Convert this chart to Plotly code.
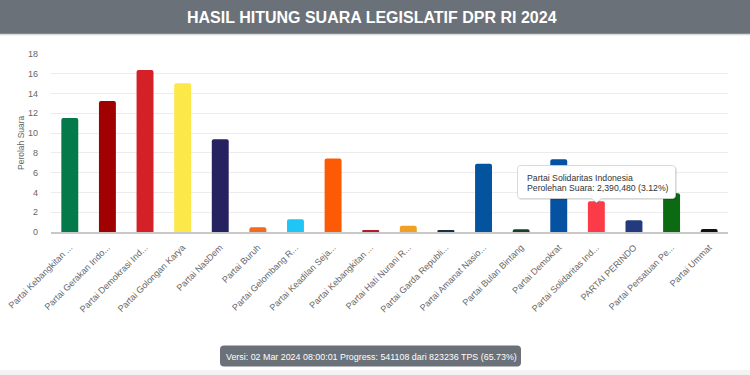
import plotly.graph_objects as go

# ---------------- data ----------------
parties = [
    "Partai Kebangkitan Bangsa", "Partai Gerakan Indonesia Raya", "Partai Demokrasi Indonesia Perjuangan",
    "Partai Golongan Karya", "Partai NasDem", "Partai Buruh", "Partai Gelombang Rakyat Indonesia",
    "Partai Keadilan Sejahtera", "Partai Kebangkitan Nusantara", "Partai Hati Nurani Rakyat",
    "Partai Garda Republik Indonesia", "Partai Amanat Nasional", "Partai Bulan Bintang",
    "Partai Demokrat", "Partai Solidaritas Indonesia", "PARTAI PERINDO",
    "Partai Persatuan Pembangunan", "Partai Ummat",
]
tick_labels = [
    "Partai Kebangkitan ...", "Partai Gerakan Indo...", "Partai Demokrasi Ind...",
    "Partai Golongan Karya", "Partai NasDem", "Partai Buruh", "Partai Gelombang R...",
    "Partai Keadilan Seja...", "Partai Kebangkitan ...", "Partai Hati Nurani R...",
    "Partai Garda Republi...", "Partai Amanat Nasio...", "Partai Bulan Bintang",
    "Partai Demokrat", "Partai Solidaritas Ind...", "PARTAI PERINDO",
    "Partai Persatuan Pe...", "Partai Ummat",
]
vote_share = [11.52, 13.25, 16.39, 15.04, 9.39, 0.47, 1.28, 7.43, 0.15,
              0.64, 0.17, 6.90, 0.27, 7.35, 3.12, 1.18, 3.92, 0.30]
bar_colors = ["#047a4a", "#a00000", "#d42027", "#fde84a", "#25225f", "#f36b21",
              "#1fc6f5", "#fd5a05", "#b01c2b", "#f0a124", "#1d2e3e", "#03539f",
              "#17402a", "#0551a2", "#fb3b48", "#243a7e", "#0b6a12", "#111111"]
y_ticks = [0, 2, 4, 6, 8, 10, 12, 14, 16, 18]

chart_title = "HASIL HITUNG SUARA LEGISLATIF DPR RI 2024"
y_title = "Perolah Suara"
tooltip_party = "Partai Solidaritas Indonesia"
tooltip_votes = "2,390,480"
tooltip_pct = "3.12%"
footer_text = "Versi: 02 Mar 2024 08:00:01 Progress: 541108 dari 823236 TPS (65.73%)"

# ---------------- layout geometry ----------------
W, H = 750, 375
L, R, T, B = 51, 22, 54, 143
PW, PH = W - L - R, H - T - B


def px(x):
    return (x - L) / PW


def py(y):
    return (H - B - y) / PH


def rounded_rect(x0, y0, x1, y1, r, pointer=None):
    pts = []
    pts.append(f"M {px(x0 + r)},{py(y0)}")
    pts.append(f"L {px(x1 - r)},{py(y0)}")
    pts.append(f"Q {px(x1)},{py(y0)} {px(x1)},{py(y0 + r)}")
    pts.append(f"L {px(x1)},{py(y1 - r)}")
    pts.append(f"Q {px(x1)},{py(y1)} {px(x1 - r)},{py(y1)}")
    if pointer:
        cx, tip, hw = pointer
        pts.append(f"L {px(cx + hw)},{py(y1)}")
        pts.append(f"L {px(cx)},{py(tip)}")
        pts.append(f"L {px(cx - hw)},{py(y1)}")
    pts.append(f"L {px(x0 + r)},{py(y1)}")
    pts.append(f"Q {px(x0)},{py(y1)} {px(x0)},{py(y1 - r)}")
    pts.append(f"L {px(x0)},{py(y0 + r)}")
    pts.append(f"Q {px(x0)},{py(y0)} {px(x0 + r)},{py(y0)}")
    pts.append("Z")
    return " ".join(pts)


fig = go.Figure()
fig.add_trace(go.Bar(
    x=parties, y=vote_share, marker=dict(color=bar_colors, line=dict(width=0)),
    width=0.45, hoverinfo="x+y",
))

shapes = []
shapes.append(dict(type="rect", xref="paper", yref="paper", x0=px(0), x1=px(W), y0=py(34), y1=py(0),
                   fillcolor="#6b7178", line=dict(width=0), layer="below"))
shapes.append(dict(type="line", xref="paper", yref="paper", x0=px(0), x1=px(W), y0=py(34.5), y1=py(34.5),
                   line=dict(color="#d9d9d9", width=1.5)))
shapes.append(dict(type="rect", xref="paper", yref="paper", x0=px(0), x1=px(W), y0=py(H), y1=py(370),
                   fillcolor="#f3f3f3", line=dict(width=0), layer="below"))
shapes.append(dict(type="path", xref="paper", yref="paper",
                   path=rounded_rect(220, 345.5, 521, 366.5, 4),
                   fillcolor="#6b7178", line=dict(width=0)))
shapes.append(dict(type="path", xref="paper", yref="paper",
                   path=rounded_rect(518.5, 167, 677, 200, 3, pointer=(597, 203.5, 5)),
                   fillcolor="rgba(0,0,0,0.10)", line=dict(width=0)))
shapes.append(dict(type="path", xref="paper", yref="paper",
                   path=rounded_rect(517.5, 165.5, 675.5, 198.5, 3, pointer=(596.5, 202.5, 5)),
                   fillcolor="white", line=dict(color="#d0d0d0", width=0.8)))

annotations = []
annotations.append(dict(text=chart_title, xref="paper", yref="paper", x=px(372), y=py(17),
                        xanchor="center", yanchor="middle", showarrow=False,
                        font=dict(family="Liberation Sans, Arial", size=16,
                                  color="white", weight="bold")))
annotations.append(dict(text=y_title, xref="paper", yref="paper", x=px(21), y=py(143),
                        xanchor="center", yanchor="middle", showarrow=False, textangle=-90,
                        font=dict(family="Liberation Sans, Arial", size=8.5, color="#666666")))
annotations.append(dict(text=tooltip_party, xref="paper", yref="paper", x=px(525), y=py(177.5),
                        xanchor="left", yanchor="middle", showarrow=False,
                        font=dict(family="Liberation Sans, Arial", size=8.7, color="#333333")))
annotations.append(dict(text=f"Perolehan Suara: {tooltip_votes} ({tooltip_pct})", xref="paper", yref="paper",
                        x=px(525), y=py(187.5), xanchor="left", yanchor="middle", showarrow=False,
                        font=dict(family="Liberation Sans, Arial", size=8.7, color="#333333")))
annotations.append(dict(text=footer_text, xref="paper", yref="paper", x=px(371), y=py(356.5),
                        xanchor="center", yanchor="middle", showarrow=False,
                        font=dict(family="Liberation Sans, Arial", size=8.9, color="white")))

fig.update_layout(
    width=W, height=H,
    margin=dict(l=L, r=R, t=T, b=B, pad=0, autoexpand=False),
    paper_bgcolor="white", plot_bgcolor="white",
    showlegend=False,
    barcornerradius=2,
    shapes=shapes, annotations=annotations,
    font=dict(family="Liberation Sans, Arial", size=9, color="#666666"),
    xaxis=dict(
        tickmode="array", tickvals=parties, ticktext=tick_labels, tickangle=-45,
        showgrid=False, showline=True, linecolor="#c8c8c8", linewidth=1.5,
        ticks="", ticklabelstandoff=5, tickfont=dict(size=9, color="#666666"),
        fixedrange=True, automargin=False,
    ),
    yaxis=dict(
        range=[0, 18], tickvals=y_ticks, showgrid=True, gridcolor="#ececec", gridwidth=1,
        zeroline=False, showline=False, ticks="", ticklabelstandoff=12,
        tickfont=dict(size=9, color="#666666"), fixedrange=True, automargin=False,
    ),
)

fig.write_html(
    "out.html",
    config={"displayModeBar": False},
    post_script="document.body.style.margin='0';document.body.style.padding='0';",
)
